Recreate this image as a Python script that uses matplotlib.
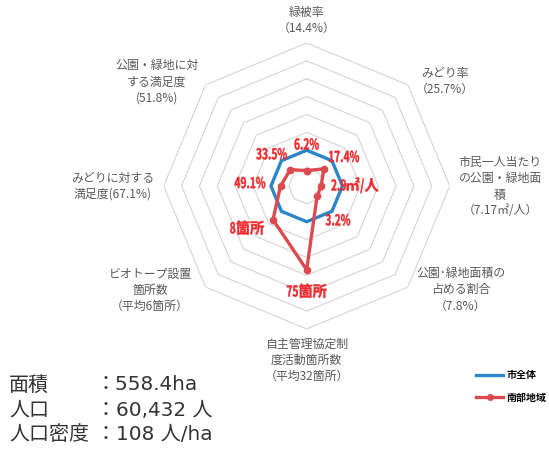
import numpy as np
import matplotlib.pyplot as plt
from matplotlib.lines import Line2D
from matplotlib.textpath import TextPath
from matplotlib.patches import PathPatch
from matplotlib.font_manager import FontProperties
from matplotlib.transforms import Affine2D, IdentityTransform

plt.rcParams['font.family'] = ['Noto Sans CJK JP', 'DejaVu Sans']

# 軸の名前（市全体の値）
axis_names = ['緑被率\n（14.4%）',
              'みどり率\n（25.7%）',
              '市民一人当たり\nの公園・緑地面\n積\n（7.17㎡/人）',
              '公園･緑地面積の\n占める割合\n（7.8%）',
              '自主管理協定制\n度活動箇所数\n（平均32箇所）',
              'ビオトープ設置\n箇所数\n（平均6箇所）',
              'みどりに対する\n満足度(67.1%)',
              '公園・緑地に対\nする満足度\n(51.8%)']
city_values = [14.4, 25.7, 7.17, 7.8, 32, 6, 67.1, 51.8]
area_values = [6.2, 17.4, 2.9, 3.2, 75, 8, 49.1, 33.5]
area_labels = ['6.2%', '17.4%', '2.9㎡/人', '3.2%', '75箇所', '8箇所', '49.1%', '33.5%']
series_names = ['市全体', '南部地域']

info_names = ['面積', '人口', '人口密度']
info_values = ['：558.4ha', '：60,432 人', '：108 人/ha']

# 市全体を1とした比率
city_ratio = [1.0] * len(city_values)
area_ratio = [a / c for a, c in zip(area_values, city_values)]

n = len(axis_names)
theta = np.linspace(0, 2 * np.pi, n, endpoint=False)
theta_c = np.append(theta, theta[0])

fig = plt.figure(figsize=(5.49, 4.5), dpi=100)
ax = fig.add_axes([0.2982, 0.2689, 0.5209, 0.6356], projection='polar')
ax.set_theta_zero_location('N')
ax.set_theta_direction(-1)
ax.set_ylim(0, 4)
ax.grid(False)
ax.set_xticks([])
ax.set_yticks([])
ax.spines['polar'].set_visible(False)
ax.patch.set_visible(False)

# 八角形の目盛り線
for r in np.arange(0.5, 4.01, 0.5):
    ax.plot(theta_c, [r] * (n + 1), color='#d4d4d4', lw=0.8, zorder=1)

blue = '#2a86c8'
red_line = '#dc4a50'
red_text = '#ee2a2f'
ax.plot(theta_c, city_ratio + city_ratio[:1], color=blue, lw=2.4, zorder=3)
ax.plot(theta_c, area_ratio + area_ratio[:1], color=red_line, lw=2.4,
        marker='o', ms=4.5, zorder=4)

# 外側のラベル
name_pos = [(0, 4.62), (52.9, 4.85), (90.3, 5.41), (124, 5.2),
            (180, 4.87), (236.4, 5.26), (270, 5.42), (304.8, 5.1)]
for name, (ang, r) in zip(axis_names, name_pos):
    ax.text(np.deg2rad(ang), r, name, ha='center', va='center', fontsize=8.6,
            color='#595959', linespacing=1.3, clip_on=False)


# 数字だけ細く描く（長体）
def narrow_text(x, y, s, size, color, sx=0.68):
    fp = FontProperties(family='Noto Sans CJK JP', weight='bold')
    runs = []
    for ch in s:
        narrow = ord(ch) < 128
        if runs and runs[-1][1] == narrow:
            runs[-1][0] += ch
        else:
            runs.append([ch, narrow])
    paths = []
    cx = 0
    for txt, narrow in runs:
        tp = TextPath((0, 0), txt, size=size, prop=fp)
        bb = tp.get_extents()
        k = sx if narrow else 0.95
        tr = Affine2D().translate(-bb.x0, 0).scale(k, 1).translate(cx, 0)
        paths.append(tr.transform_path(tp))
        cx += (bb.x1 - bb.x0) * k + size * 0.06
    w = cx - size * 0.06
    for p in paths:
        p2 = Affine2D().translate(x - w / 2, y - size * 0.36).transform_path(p)
        fig.add_artist(PathPatch(p2, fc=color, ec=color, lw=0.3,
                                 transform=IdentityTransform(), zorder=6))


# 地域の値ラベル
val_pos = [(0, 1.17), (51.8, 1.33), (89, 1.35), (137.4, 1.29),
           (180, 2.94), (234.9, 2.04), (273.3, 1.59), (312.4, 1.33)]
for lab, (ang, r) in zip(area_labels, val_pos):
    px, py = ax.transData.transform((np.deg2rad(ang), r))
    narrow_text(px, py, lab, 15, red_text)

# 面積・人口
for i, (nm, v) in enumerate(zip(info_names, info_values)):
    y = 1 - (385 + 25 * i) / 450
    fig.text(9 / 549, y, nm, fontsize=14.4, color='#333333', va='center')
    fig.text(96 / 549, y, v, fontsize=14.4, color='#333333', va='center',
             family=['DejaVu Sans', 'Noto Sans CJK JP'])

handles = [Line2D([], [], color=blue, lw=2.4),
           Line2D([], [], color=red_line, lw=2.4, marker='o', ms=4)]
fig.legend(handles, series_names, loc='upper left',
           bbox_to_anchor=(467 / 549, 1 - 361 / 450), frameon=False,
           handlelength=2.7, labelspacing=1.25, handletextpad=0.35,
           prop={'family': 'Noto Sans CJK JP', 'weight': 'bold', 'size': 7.2})

fig.savefig('out.png', dpi=100)
